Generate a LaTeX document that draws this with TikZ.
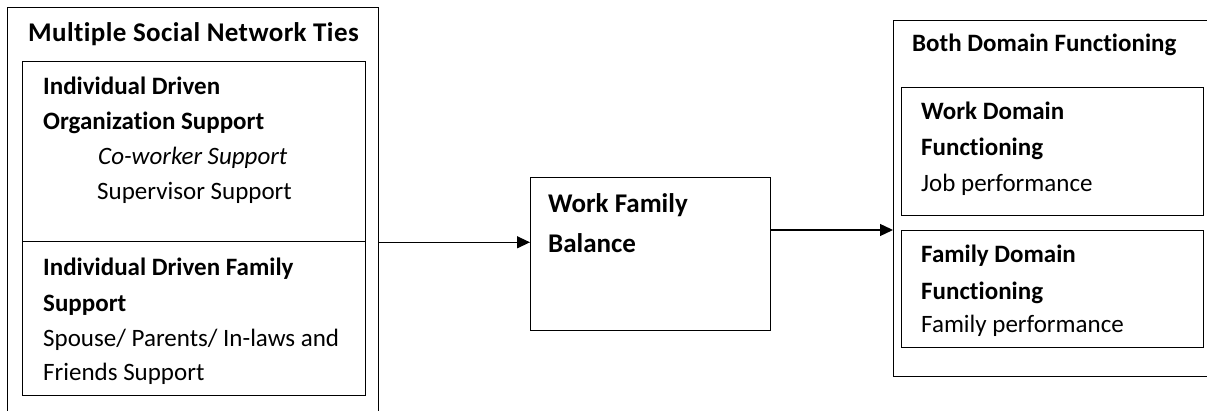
\documentclass[tikz,border=0pt]{standalone}
\usepackage{fontspec}
\setmainfont{Carlito}[Ligatures=CommonOff]
\usepackage{tikz}
\usetikzlibrary{arrows.meta, positioning, calc}

\tikzset{
  box/.style={draw, line width=1.3pt, anchor=north west, inner sep=0pt},
  txt/.style={anchor=base west, inner sep=0pt, font=\fontsize{25}{30}\selectfont},
  hd/.style={txt, font=\fontsize{25}{30}\selectfont\bfseries},
  bighd/.style={txt, font=\fontsize{27}{32}\selectfont\bfseries},
  arr/.style={line width=1.3pt, -{Triangle[length=13pt, width=12pt]}}
}

\begin{document}
\begin{tikzpicture}[x=1pt, y=-1pt]
    \useasboundingbox (0,0) rectangle (1207,411);
    \clip (0,0) rectangle (1207,411);

    % left: social network ties
    \node[box, minimum width=371pt, minimum height=420pt] (ties) at (7,7) {};
    \node[box, minimum width=343pt, minimum height=180pt] (orgsup) at (22,61) {};
    \node[box, minimum width=343pt, minimum height=154pt] (famsup) at (22,241) {};
    \node[bighd, font=\fontsize{27}{32}\selectfont\bfseries\addfontfeatures{LetterSpace=1.5}] (tiestitle) at (28,42) {Multiple Social Network Ties};
    \node[hd] (org1) at (43,95) {Individual Driven};
    \node[hd] (org2) at (43,130) {Organization Support};
    \node[txt, font=\fontsize{25}{30}\selectfont\itshape] (cowork) at (98,165) {Co-worker Support};
    \node[txt] (superv) at (97,200) {Supervisor Support};
    \node[hd] (fam1) at (43,276) {Individual Driven Family};
    \node[hd] (fam2) at (43,312) {Support};
    \node[txt] (fam3) at (43,347) {Spouse/ Parents/ In-laws and};
    \node[txt] (fam4) at (43,381) {Friends Support};

    % middle: balance
    \node[box, minimum width=240pt, minimum height=153pt] (wfb) at (530,177) {};
    \node[bighd] (wfb1) at (548,213) {Work Family};
    \node[bighd] (wfb2) at (548,253) {Balance};

    % right: domain functioning
    \node[box, minimum width=330pt, minimum height=356pt] (both) at (893,20) {};
    \node[box, minimum width=302pt, minimum height=128pt] (workfun) at (901,87) {};
    \node[box, minimum width=302pt, minimum height=117pt] (famfun) at (901,230) {};
    \node[hd] (bothtitle) at (912,52) {Both Domain Functioning};
    \node[hd] (work1) at (921,120) {Work Domain};
    \node[hd] (work2) at (921,156) {Functioning};
    \node[txt] (work3) at (921,192) {Job performance};
    \node[hd] (ff1) at (921,263) {Family Domain};
    \node[hd] (ff2) at (921,300) {Functioning};
    \node[txt] (ff3) at (921,333) {Family performance};

    % arrows
    \draw[arr] (orgsup.south -| ties.east) -- (orgsup.south -| wfb.west);
    \draw[arr] (famfun.north -| wfb.east) -- (famfun.north -| both.west);
\end{tikzpicture}
\end{document}
